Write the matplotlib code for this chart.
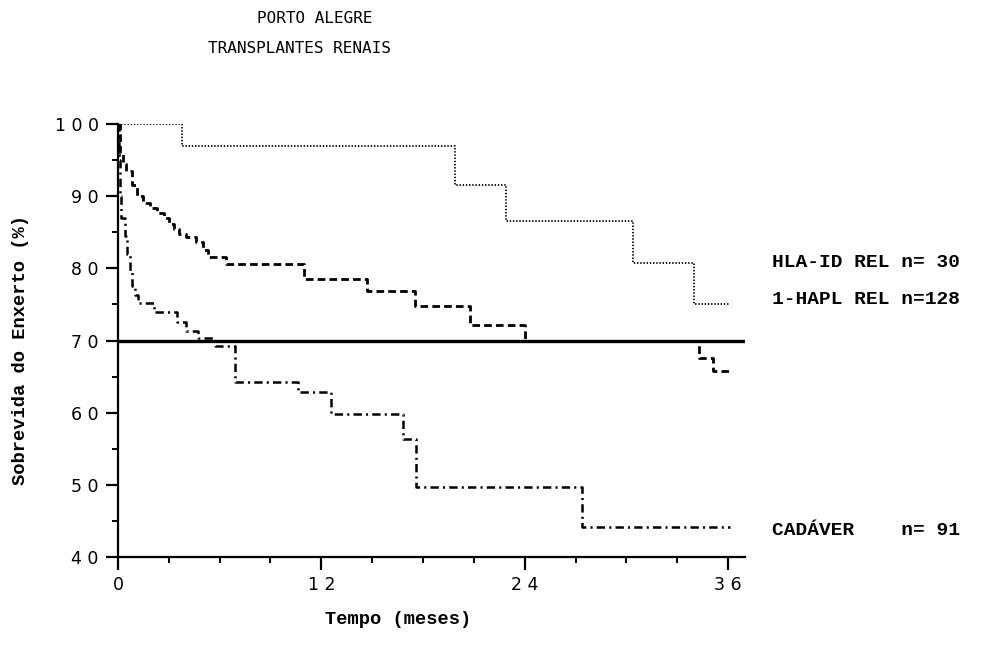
import matplotlib.pyplot as plt
import numpy as np

plt.rcParams['lines.scale_dashes'] = False

# graft survival (%) by month, Kaplan-Meier style steps
hla_t = [0, 3.8, 19.9, 22.9, 30.4, 34.0, 36.1]
hla_s = [100, 96.9, 91.5, 86.6, 80.7, 75.0, 75.0]

hapl_t = [0, 0.1, 0.3, 0.5, 0.8, 1.1, 1.5, 1.9, 2.3, 2.7, 3.0, 3.3, 3.6, 4.0, 4.6, 5.0, 5.3, 6.4,
          11.0, 14.7, 17.5, 20.8, 24.0, 34.3, 35.1, 36.1]
hapl_s = [100, 96.0, 94.5, 93.5, 91.5, 90.0, 89.0, 88.3, 87.6, 87.0, 86.2, 85.5, 84.8, 84.4,
          83.6, 82.6, 81.6, 80.6, 78.5, 76.9, 74.8, 72.1, 69.9, 67.6, 65.8, 65.8]

cad_t = [0, 0.05, 0.1, 0.2, 0.4, 0.55, 0.7, 0.85, 1.0, 1.2, 2.1, 3.5, 4.0, 4.7, 5.7, 6.9,
         10.6, 12.6, 16.8, 17.6, 27.4, 36.1]
cad_s = [100, 95.0, 90.0, 87.0, 84.5, 82.0, 79.5, 77.5, 76.3, 75.2, 73.9, 72.6, 71.3, 70.4,
         69.3, 64.3, 62.8, 59.8, 56.4, 49.7, 44.2, 44.2]

labels = ["HLA-ID REL n= 30", "1-HAPL REL n=128", "CADÁVER    n= 91"]
label_y = [0.597, 0.540, 0.186]

yticks = [40, 50, 60, 70, 80, 90, 100]
xticks = [0, 12, 24, 36]

fig = plt.figure(figsize=(9.98, 6.52), dpi=100)
ax = fig.add_axes([0.1182, 0.1457, 0.6283, 0.6641])

ax.step(hla_t, hla_s, where='post', color='black', lw=1.3, ls=(0, (1, 1.3)))
ax.step(hapl_t, hapl_s, where='post', color='black', lw=2.0, ls=(0, (5.5, 3)))
ax.step(cad_t, cad_s, where='post', color='black', lw=1.8, ls=(0, (6, 3, 1.5, 3)))
ax.axhline(70, color='black', lw=2.4)

ax.set_xlim(0, 37)
ax.set_ylim(40, 100)
for s in ['top', 'right']:
    ax.spines[s].set_visible(False)
for s in ['left', 'bottom']:
    ax.spines[s].set_linewidth(1.6)

# spaced-out digits on the tick labels
ax.set_yticks(yticks)
ax.set_yticklabels([" ".join(str(v)) for v in yticks])
ax.set_yticks(np.arange(45, 100, 10), minor=True)
ax.set_xticks(xticks)
ax.set_xticklabels([" ".join(str(v)) for v in xticks])
ax.set_xticks(np.arange(3, 37, 3), minor=True)
ax.tick_params(which='major', length=9, width=1.6, direction='out', pad=5,
               labelsize=12.5, colors='black')
ax.tick_params(which='minor', length=4, width=1.4, direction='out')

mono = 'Liberation Mono'
fig.text(0.315, 0.972, "PORTO ALEGRE", ha='center', va='center',
         family='DejaVu Sans Mono', fontsize=11.5)
fig.text(0.30, 0.926, "TRANSPLANTES RENAIS", ha='center', va='center',
         family='DejaVu Sans Mono', fontsize=11.5)
fig.text(0.021, 0.463, "Sobrevida do Enxerto (%)", rotation=90, ha='center',
         va='center', family=mono, fontsize=13.5, fontweight='bold')
fig.text(0.399, 0.05, "Tempo (meses)", ha='center', va='center',
         family=mono, fontsize=13.5, fontweight='bold')
for txt, yy in zip(labels, label_y):
    fig.text(0.774, yy, txt, ha='left', va='center', family=mono,
             fontsize=14, fontweight='bold')

fig.savefig("out.png", dpi=100)
